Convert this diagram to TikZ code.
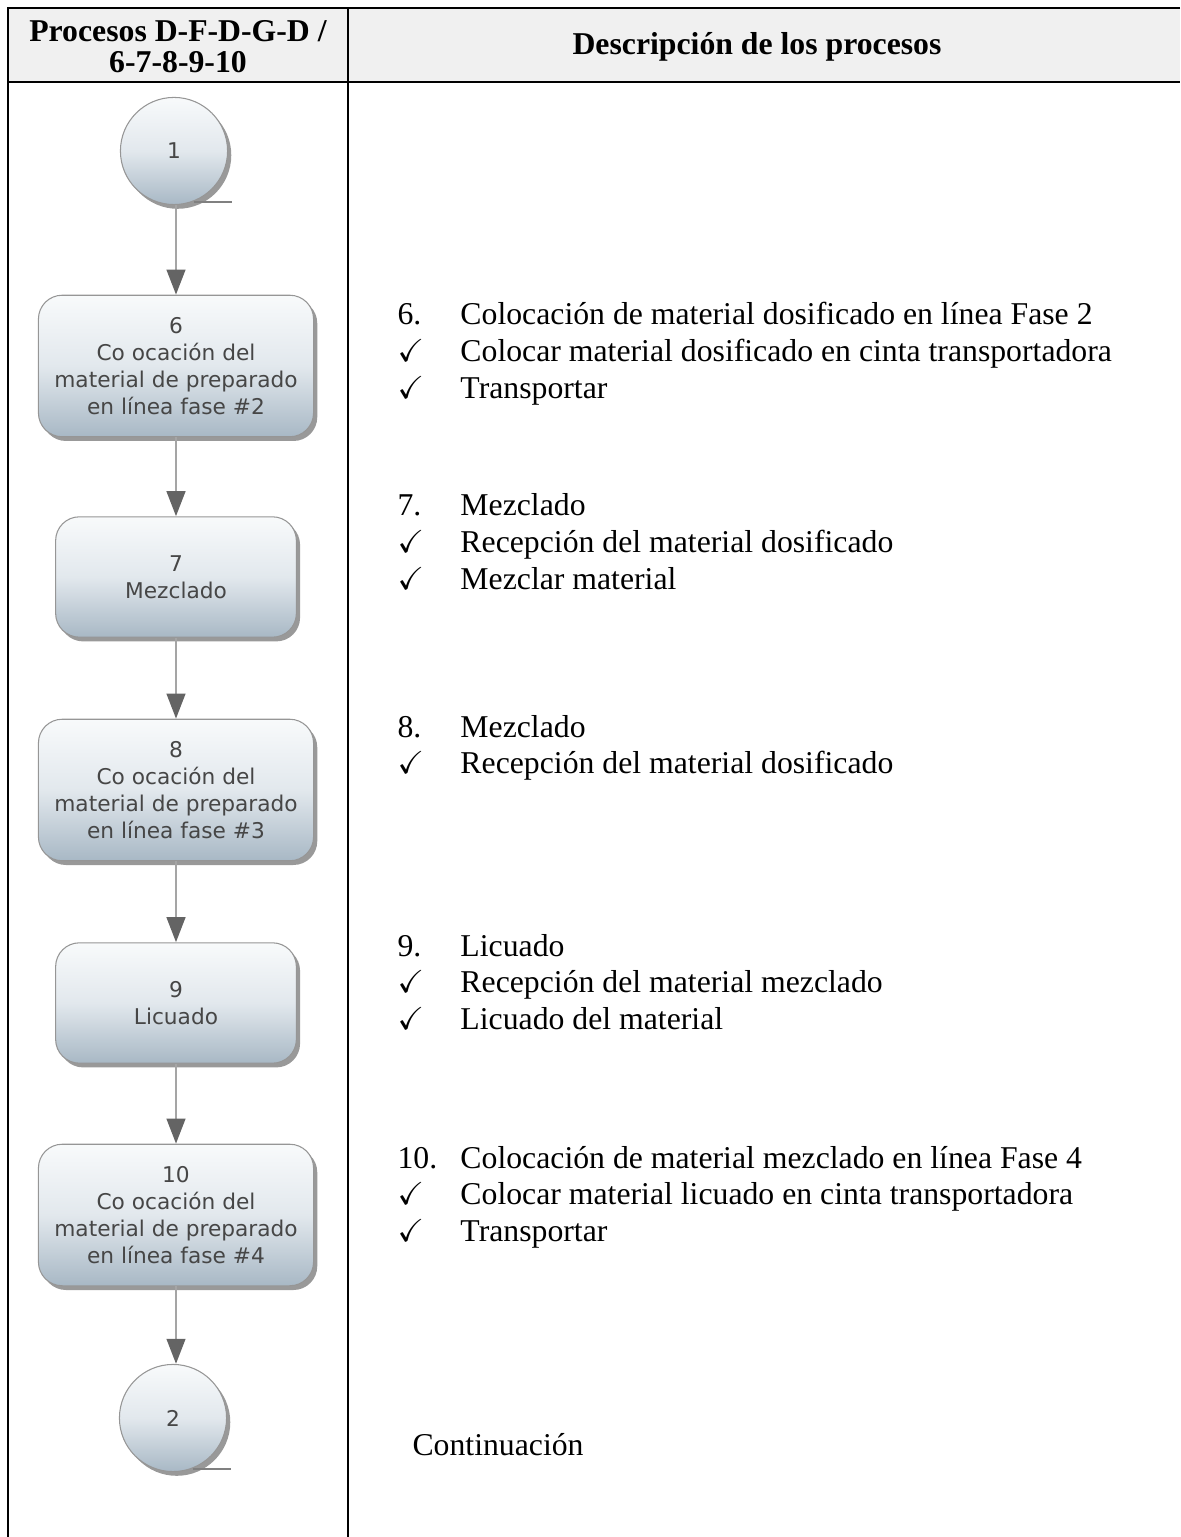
\documentclass[tikz,border=0pt]{standalone}
\usepackage{fontspec}
\usepackage{amssymb}
\setmainfont{Liberation Serif}
\newfontfamily\flowfont{DejaVu Sans}
\usetikzlibrary{arrows.meta,shadows,positioning}

\definecolor{headgray}{RGB}{240,240,240}
\definecolor{boxtop}{RGB}{248,250,251}
\definecolor{boxmid}{RGB}{226,232,237}
\definecolor{boxbot}{RGB}{168,184,197}
\definecolor{boxline}{RGB}{150,150,150}
\definecolor{flowtext}{RGB}{70,70,70}
\definecolor{arrowline}{RGB}{165,165,165}
\definecolor{arrowhead}{RGB}{100,100,100}

\tikzset{
  rule/.style={line width=0.55pt,black},
  head/.style={font=\bfseries\fontsize{12}{11.8}\selectfont,align=center,inner sep=0pt},
  desc/.style={font=\fontsize{12}{13.8}\selectfont,anchor=base west,inner sep=0pt},
  flowbox/.style={draw=boxline,line width=0.4pt,top color=boxtop,bottom color=boxbot,middle color=boxmid,
    drop shadow={shadow xshift=1.4pt,shadow yshift=-1.6pt,opacity=0.4,fill=black},
    font=\flowfont\fontsize{8.2}{10.2}\selectfont,text=flowtext,align=center},
  bigproc/.style={flowbox,rounded corners=9pt,minimum width=104pt,minimum height=53.5pt},
  smallproc/.style={flowbox,rounded corners=9pt,minimum width=91pt,minimum height=45.5pt},
  term/.style={flowbox,circle,minimum size=40.5pt},
  flow/.style={draw=arrowline,line width=1.1pt,-{Triangle[width=7pt,length=9.5pt,color=arrowhead]}},
  tail/.style={draw=black!50,line width=1pt}
}

\begin{document}
\begin{tikzpicture}[x=0.378pt,y=-0.378pt]
    \useasboundingbox (0,0) rectangle (1180,1537);

    % Draw the table
    \fill[headgray] (8,8) rectangle (1180,82);
    \draw[rule] (1180,8) -- (8,8) -- (8,1537);
    \draw[rule] (8,82) -- (1180,82);
    \draw[rule] (348,8) -- (348,1537);

    % Header texts
    \node[head] (hproc) at (178,47) {Procesos D-F-D-G-D /\\6-7-8-9-10};
    \node[head] (hdesc) at (757,47) {Descripción de los procesos};

    % Draw the flow chart
    \node[term] (c1) at (174,151) {1};
    \node[bigproc] (p6) at (176,366) {6\\Co ocación del\\material de preparado\\en línea fase \#2};
    \node[smallproc] (p7) at (176,577) {7\\Mezclado};
    \node[bigproc] (p8) at (176,790) {8\\Co ocación del\\material de preparado\\en línea fase \#3};
    \node[smallproc] (p9) at (176,1003) {9\\Licuado};
    \node[bigproc] (p10) at (176,1215) {10\\Co ocación del\\material de preparado\\en línea fase \#4};
    \node[term] (c2) at (173,1418) {2};

    \draw[tail] (c1.south) ++(20,-3) -- ++(38,0);
    \draw[tail] (c2.south) ++(20,-3) -- ++(38,0);

    % Draw the arrows
    \draw[flow] (p6.north |- c1.south) -- (p6.north);
    \foreach \a/\b in {p6/p7,p7/p8,p8/p9,p9/p10}
        \draw[flow] (\a.south) -- (\b.north);
    \draw[flow] (p10.south) -- (p10.south |- c2.north);

    % Descriptions
    \node[desc] (d6) at (397,325) {\begin{tabular}[t]{@{}p{23.8pt}@{}l@{}}
        6. & Colocación de material dosificado en línea Fase 2\\
        \checkmark & Colocar material dosificado en cinta transportadora\\
        \checkmark & Transportar\end{tabular}};
    \node[desc] (d7) at (397,516) {\begin{tabular}[t]{@{}p{23.8pt}@{}l@{}}
        7. & Mezclado\\
        \checkmark & Recepción del material dosificado\\
        \checkmark & Mezclar material\end{tabular}};
    \node[desc] (d8) at (397,737) {\begin{tabular}[t]{@{}p{23.8pt}@{}l@{}}
        8. & Mezclado\\
        \checkmark & Recepción del material dosificado\end{tabular}};
    \node[desc] (d9) at (397,956) {\begin{tabular}[t]{@{}p{23.8pt}@{}l@{}}
        9. & Licuado\\
        \checkmark & Recepción del material mezclado\\
        \checkmark & Licuado del material\end{tabular}};
    \node[desc] (d10) at (397,1168) {\begin{tabular}[t]{@{}p{23.8pt}@{}l@{}}
        10. & Colocación de material mezclado en línea Fase 4\\
        \checkmark & Colocar material licuado en cinta transportadora\\
        \checkmark & Transportar\end{tabular}};
    \node[desc] (dcont) at (412,1455) {Continuación};
\end{tikzpicture}
\end{document}
